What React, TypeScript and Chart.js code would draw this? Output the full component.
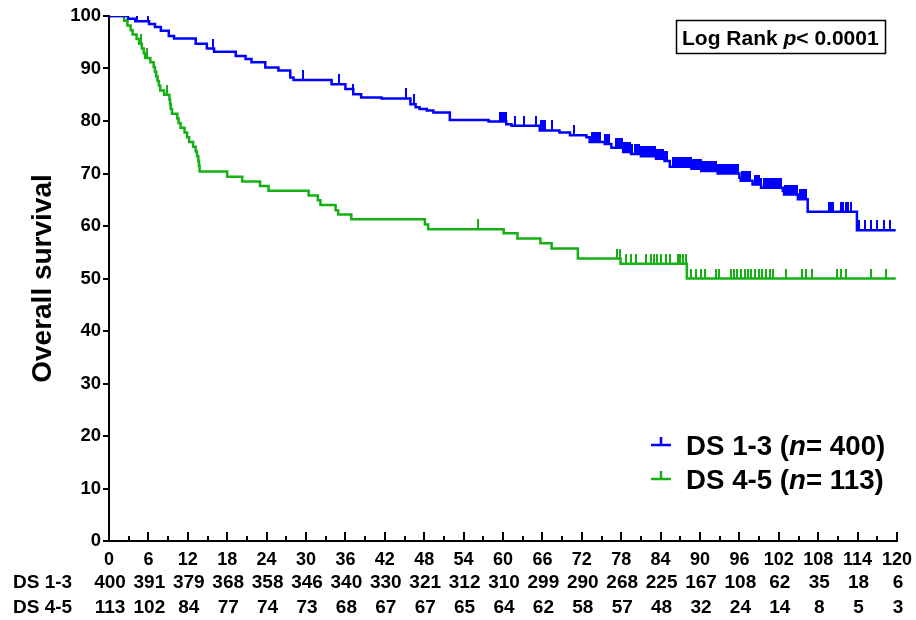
import React, { useEffect, useRef } from 'react';
import { Chart, registerables } from 'chart.js';

Chart.register(...registerables);

const FONT = '"Liberation Sans", Arial, Helvetica, sans-serif';
const BLUE = '#0000FF';
const GREEN = '#14B014';

const groupLabels = ['DS 1-3', 'DS 4-5'];
const groupN = [400, 113];
const yTitle = 'Overall survival';
const pText = ['Log Rank ', 'p', '< 0.0001'];

const xTicks = [0, 6, 12, 18, 24, 30, 36, 42, 48, 54, 60, 66, 72, 78, 84, 90, 96, 102, 108, 114, 120];
const riskDS13 = [400, 391, 379, 368, 358, 346, 340, 330, 321, 312, 310, 299, 290, 268, 225, 167, 108, 62, 35, 18, 6];
const riskDS45 = [113, 102, 84, 77, 74, 73, 68, 67, 67, 65, 64, 62, 58, 57, 48, 32, 24, 14, 8, 5, 3];

// Kaplan-Meier steps (month, survival %)
const blueTimes = [0, 2.9, 4.0, 6.1, 7.0, 7.9, 9.1, 9.9, 13.2, 14.9, 16.0, 19.3, 20.8, 21.7, 23.8, 25.8, 27.6, 28.1, 33.9, 36.0, 37.2, 38.4, 41.5, 45.9, 46.7, 47.3, 48.4, 49.4, 51.9, 57.8, 60.5, 61.3, 65.6, 68.6, 70.2, 72.7, 73.2, 75.5, 76.5, 78.3, 79.5, 81.0, 83.3, 84.6, 85.4, 88.7, 90.2, 92.7, 96.0, 96.2, 98.0, 99.3, 102.6, 102.8, 104.9, 106.4, 113.9, 119.8];
const blueSurv = [100, 99.5, 99.0, 98.5, 97.9, 97.2, 96.2, 95.7, 94.7, 93.8, 93.2, 92.4, 91.8, 91.2, 90.2, 89.6, 88.3, 87.8, 87.0, 86.1, 85.1, 84.5, 84.3, 83.2, 82.6, 82.3, 82.0, 81.6, 80.2, 79.9, 79.4, 79.1, 78.2, 77.8, 77.3, 76.9, 76.0, 75.6, 74.9, 74.1, 73.7, 73.3, 72.8, 72.4, 71.3, 70.9, 70.5, 70.0, 69.2, 68.6, 67.9, 67.3, 66.7, 66.0, 65.1, 62.7, 59.2, 59.2];

const greenTimes = [0, 2.3, 2.8, 3.3, 3.6, 4.2, 4.6, 5.0, 5.3, 5.5, 6.3, 6.8, 7.0, 7.2, 7.4, 7.6, 7.8, 8.4, 9.2, 9.3, 9.4, 9.6, 10.4, 10.6, 10.9, 11.5, 11.9, 12.2, 12.8, 13.2, 13.4, 13.6, 13.7, 13.8, 18.0, 20.3, 23.0, 24.3, 30.4, 31.8, 32.2, 34.5, 34.9, 36.9, 48.1, 48.6, 60.1, 62.2, 65.7, 67.4, 71.4, 77.9, 88.0, 119.8];
const greenSurv = [100, 99.1, 98.2, 97.3, 96.5, 95.6, 94.7, 93.8, 92.9, 92.0, 91.2, 90.3, 89.4, 88.5, 87.6, 86.7, 85.8, 85.0, 84.1, 83.2, 82.3, 81.4, 80.5, 79.6, 78.7, 77.8, 76.9, 76.0, 75.1, 74.2, 73.3, 72.4, 71.5, 70.4, 69.4, 68.5, 67.6, 66.7, 65.8, 64.9, 64.0, 63.0, 62.2, 61.3, 60.3, 59.4, 58.6, 57.6, 56.7, 55.7, 53.8, 52.8, 50.0, 50.0];

// Censoring times (months)
const blueCensor = [4.2, 6.0, 15.8, 29.5, 35.0, 37.2, 45.2, 46.5,
  59.5, 59.8, 60.1, 60.4, 61.8, 63.2, 65.0, 65.8, 66.1, 66.4, 67.5, 70.8,
  73.6, 73.9, 74.2, 74.5, 74.8, 75.5, 75.8, 76.1, 77.2, 77.5, 77.8, 78.1, 78.4, 78.7, 79.0, 79.3, 79.6,
  80.1, 80.4, 80.7, 81.0, 81.3, 81.6, 81.9, 82.2, 82.5, 82.8, 83.1, 83.4, 83.7, 84.0, 84.3, 84.6, 84.9,
  85.9, 86.2, 86.5, 86.8, 87.1, 87.4, 87.7, 88.0, 88.3, 88.6, 88.9, 89.2, 89.5, 89.8, 90.1, 90.4, 90.7,
  91.0, 91.3, 91.6, 91.9, 92.2, 92.5, 92.8, 93.1, 93.4, 93.7, 94.0, 94.3, 94.6, 94.9, 95.2, 95.5, 95.8,
  96.4, 96.7, 97.0, 97.3, 97.6, 98.4, 98.7, 99.0, 99.3, 99.7, 100.0, 100.3, 100.6, 100.9, 101.2, 101.5,
  101.8, 102.1, 102.4, 102.9, 103.2, 103.5, 103.8, 104.1, 104.4, 104.7, 105.3, 105.6, 105.9, 106.2,
  109.6, 110.0, 110.3, 111.4, 111.8, 112.2, 112.6, 113.0, 114.2, 115.2, 116.0, 117.0, 118.0, 119.0];
const greenCensor = [4.8, 5.8, 8.9, 56.2,
  77.3, 77.8, 78.8, 79.5, 80.3, 81.8, 82.5, 83.0, 83.5, 84.0, 84.8, 85.4, 86.6, 87.0, 87.4, 87.8,
  88.7, 89.4, 90.2, 90.7, 92.4, 92.9, 94.7, 95.2, 95.7, 96.3, 96.8, 97.3, 97.8, 98.3, 99.0, 99.5,
  100.0, 100.6, 101.1, 103.1, 105.6, 106.1, 107.1, 110.9, 111.5, 112.2, 116.0, 118.4];

function survivalAt(times: number[], surv: number[], t: number): number {
  let s = surv[0];
  for (let i = 0; i < times.length; i++) {
    if (times[i] <= t) s = surv[i];
    else break;
  }
  return s;
}

function tickImage(color: string): HTMLCanvasElement {
  const c = document.createElement('canvas');
  c.width = 2;
  c.height = 20;
  const g = c.getContext('2d')!;
  g.fillStyle = color;
  g.fillRect(0, 0, 2, 10);
  return c;
}

function drawRich(ctx: CanvasRenderingContext2D, parts: { t: string; i: boolean }[], x: number, y: number, size: number) {
  let cx = x;
  for (const p of parts) {
    ctx.font = `${p.i ? 'italic ' : ''}bold ${size}px ${FONT}`;
    ctx.fillText(p.t, cx, y);
    cx += ctx.measureText(p.t).width;
  }
  return cx;
}

const extras = {
  id: 'extras',
  afterDraw(chart: any) {
    const { ctx, scales } = chart;
    const x = scales.x;
    const y = scales.y;
    const base = y.getPixelForValue(0);
    ctx.save();
    // inward x-axis ticks (major every 6, minor every 3)
    ctx.strokeStyle = '#000';
    ctx.lineWidth = 2;
    for (let v = 3; v <= 120; v += 3) {
      const px = Math.round(x.getPixelForValue(v));
      const len = v % 6 === 0 ? 9 : 5;
      ctx.beginPath();
      ctx.moveTo(px, base);
      ctx.lineTo(px, base - len);
      ctx.stroke();
    }
    // risk table
    ctx.fillStyle = '#000';
    ctx.textBaseline = 'alphabetic';
    ctx.font = `bold 19px ${FONT}`;
    ctx.textAlign = 'left';
    ctx.fillText(groupLabels[0], 13, 588);
    ctx.fillText(groupLabels[1], 13, 612.5);
    ctx.textAlign = 'center';
    xTicks.forEach((t, i) => {
      const px = x.getPixelForValue(t);
      ctx.fillText(String(riskDS13[i]), px + 1, 588);
      ctx.fillText(String(riskDS45[i]), px + 1, 612.5);
    });
    // legend
    ctx.textAlign = 'left';
    const legendRows = [
      { color: BLUE, base: 455, label: groupLabels[0], n: groupN[0] },
      { color: GREEN, base: 489, label: groupLabels[1], n: groupN[1] },
    ];
    for (const r of legendRows) {
      const ly = r.base - 10;
      ctx.strokeStyle = r.color;
      ctx.lineWidth = 2.5;
      ctx.beginPath();
      ctx.moveTo(651, ly);
      ctx.lineTo(671, ly);
      ctx.moveTo(661, ly);
      ctx.lineTo(661, ly - 8);
      ctx.stroke();
      ctx.fillStyle = '#000';
      drawRich(ctx, [
        { t: `${r.label} (`, i: false },
        { t: 'n', i: true },
        { t: `= ${r.n})`, i: false },
      ], 686, r.base, 27.7);
    }
    // log rank box
    ctx.strokeStyle = '#000';
    ctx.lineWidth = 1.5;
    ctx.strokeRect(676.5, 20.5, 209, 33);
    ctx.fillStyle = '#000';
    drawRich(ctx, [
      { t: pText[0], i: false },
      { t: pText[1], i: true },
      { t: pText[2], i: false },
    ], 682, 44.5, 21);
    ctx.restore();
  },
};

export default function App() {
  const ref = useRef<HTMLCanvasElement | null>(null);
  useEffect(() => {
    if (!ref.current) return;
    const chart = new Chart(ref.current, {
      type: 'line',
      data: {
        datasets: [
          {
            label: groupLabels[0],
            data: blueTimes.map((t, i) => ({ x: t, y: blueSurv[i] })),
            borderColor: BLUE,
            borderWidth: 2.5,
            stepped: true,
            pointRadius: 0,
            fill: false,
          },
          {
            label: groupLabels[1],
            data: greenTimes.map((t, i) => ({ x: t, y: greenSurv[i] })),
            borderColor: GREEN,
            borderWidth: 2.5,
            stepped: true,
            pointRadius: 0,
            fill: false,
          },
          {
            type: 'scatter',
            label: 'cens1',
            data: blueCensor.map((t) => ({ x: t, y: survivalAt(blueTimes, blueSurv, t) })),
            pointStyle: tickImage(BLUE),
            pointRadius: 3,
            showLine: false,
          },
          {
            type: 'scatter',
            label: 'cens2',
            data: greenCensor.map((t) => ({ x: t, y: survivalAt(greenTimes, greenSurv, t) })),
            pointStyle: tickImage(GREEN),
            pointRadius: 3,
            showLine: false,
          },
        ] as any,
      },
      options: {
        animation: false,
        responsive: false,
        events: [],
        layout: { padding: { left: 0, right: 19, top: 16, bottom: 0 } },
        plugins: { legend: { display: false }, tooltip: { enabled: false } },
        scales: {
          x: {
            type: 'linear',
            min: 0,
            max: 120,
            afterFit: (s: any) => { s.height = 79; },
            ticks: {
              stepSize: 6,
              autoSkip: false,
              maxRotation: 0,
              color: '#000',
              padding: 0,
              font: { family: FONT, size: 18, weight: 'bold' },
            },
            grid: { display: false },
            border: { display: true, color: '#000', width: 2 },
          },
          y: {
            min: 0,
            max: 100,
            afterFit: (s: any) => { s.width = 109; },
            ticks: {
              stepSize: 10,
              color: '#000',
              padding: 2,
              font: { family: FONT, size: 18.5, weight: 'bold' },
            },
            grid: { drawOnChartArea: false, drawTicks: true, tickLength: 6, color: '#000', lineWidth: 2 },
            border: { display: true, color: '#000', width: 2 },
            title: {
              display: true,
              text: yTitle,
              color: '#000',
              font: { family: FONT, size: 28, weight: 'bold' },
              padding: { top: 26, bottom: 0 },
            },
          },
        },
      } as any,
      plugins: [extras],
    });
    return () => chart.destroy();
  }, []);
  return (
    <canvas
      ref={ref}
      width={916}
      height={620}
      style={{ position: 'absolute', left: 0, top: 0, width: 916, height: 620 }}
    />
  );
}
